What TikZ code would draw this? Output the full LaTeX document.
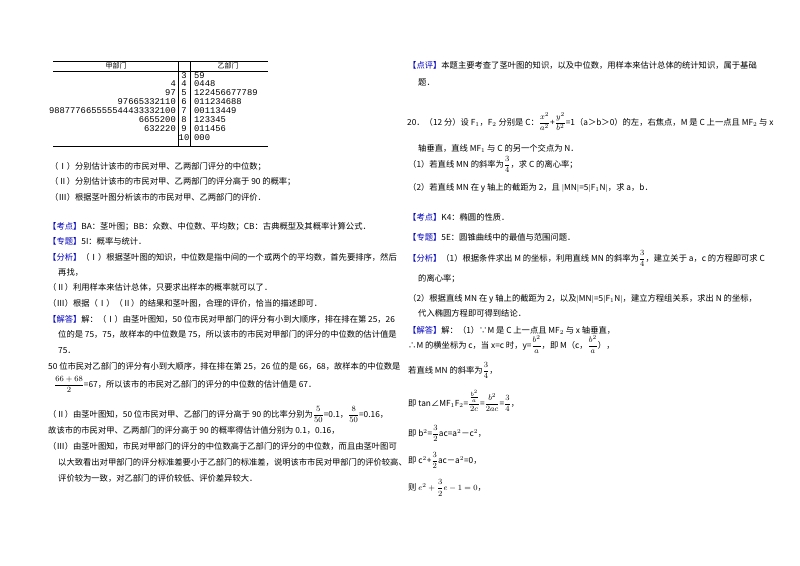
\documentclass[tikz,border=0pt]{standalone}
\usepackage{amsmath}
\usepackage{fontspec}
\setmainfont{Noto Sans CJK SC}
\newfontfamily\monof{Liberation Mono}
\newcommand\fs{\fontsize{8.3}{10}\selectfont}
\newcommand\kbl[1]{\textcolor{blue!75!black}{【#1】}}
\begin{document}
\begin{tikzpicture}[x=1pt,y=-1pt,
  t/.style={anchor=base west,inner sep=0,font=\fs},
  lf/.style={anchor=base east,inner sep=0,font=\monof\fontsize{8.8}{9}\selectfont},
  rt/.style={anchor=base west,inner sep=0,font=\monof\fontsize{8.8}{9}\selectfont},
  st/.style={anchor=base,inner sep=0,font=\monof\fontsize{8.8}{9}\selectfont},
  rule/.style={line width=0.6pt}]
\useasboundingbox[fill=white] (0,0) rectangle (800,565);
% stem-leaf table
\coordinate (tl) at (53,61); \coordinate (tr) at (268,61);
\coordinate (hl) at (53,71); \coordinate (hr) at (268,71);
\coordinate (bl) at (53,146); \coordinate (br) at (268,146);
\coordinate (v1t) at (178,61); \coordinate (v1b) at (178,146);
\coordinate (v2t) at (190,61); \coordinate (v2b) at (190,146);
\draw[rule] (tl)--(tr); \draw[rule,line width=0.4pt] (hl)--(hr); \draw[rule] (bl)--(br);
\draw[line width=0.4pt] (v1t)--(v1b); \draw[line width=0.4pt] (v2t)--(v2b);
\node[anchor=base,inner sep=0,font=\fontsize{7}{8}\selectfont] (h1) at (116,68) {甲部门};
\node[anchor=base,inner sep=0,font=\fontsize{7}{8}\selectfont] (h2) at (228,68) {乙部门};
\foreach \s/\l/\r [count=\i] in {3//59,4/4/0448,5/97/122456677789,6/97665332110/011234688,7/988777665555544433332100/00113449,8/6655200/123345,9/632220/011456,10//000}{
  \node[st] (s\i) at (184,{78+(\i-1)*8.9}) {\s};
  \node[lf] (l\i) at (176,{78+(\i-1)*8.9}) {\l};
  \node[rt] (r\i) at (194,{78+(\i-1)*8.9}) {\r};
}
% questions
\node[t] (q1) at (50,169) {（Ⅰ）分别估计该市的市民对甲、乙两部门评分的中位数；};
\node[t] (q2) at (50,184) {（Ⅱ）分别估计该市的市民对甲、乙两部门的评分高于 90 的概率；};
\node[t] (q3) at (50,200) {（Ⅲ）根据茎叶图分析该市的市民对甲、乙两部门的评价．};
% left analysis
\node[t] (a1) at (48,229) {\kbl{考点}BA：茎叶图；BB：众数、中位数、平均数；CB：古典概型及其概率计算公式．};
\node[t] (a2) at (48,244) {\kbl{专题}5I：概率与统计．};
\node[t] (a3) at (48,260) {\kbl{分析}（Ⅰ）根据茎叶图的知识，中位数是指中间的一个或两个的平均数，首先要排序，然后};
\node[t] (a4) at (58,275) {再找，};
\node[t] (a5) at (48,290) {（Ⅱ）利用样本来估计总体，只要求出样本的概率就可以了．};
\node[t] (a6) at (48,306) {（Ⅲ）根据（Ⅰ）（Ⅱ）的结果和茎叶图，合理的评价，恰当的描述即可．};
\node[t] (a7) at (48,322) {\kbl{解答}解：（Ⅰ）由茎叶图知，50 位市民对甲部门的评分有小到大顺序，排在排在第 25，26};
\node[t] (a8) at (58,337) {位的是 75，75，故样本的中位数是 75，所以该市的市民对甲部门的评分的中位数的估计值是};
\node[t] (a9) at (58,353) {75．};
\node[t] (a10) at (48,369) {50 位市民对乙部门的评分有小到大顺序，排在排在第 25，26 位的是 66，68，故样本的中位数是};
\node[t] (a11) at (54,387) {$\dfrac{66+68}{2}$=67，所以该市的市民对乙部门的评分的中位数的估计值是 67．};
\node[t] (a12) at (48,417) {（Ⅱ）由茎叶图知，50 位市民对甲、乙部门的评分高于 90 的比率分别为$\dfrac{5}{50}$=0.1，$\dfrac{8}{50}$=0.16，};
\node[t] (a13) at (48,433) {故该市的市民对甲、乙两部门的评分高于 90 的概率得估计值分别为 0.1，0.16，};
\node[t] (a14) at (48,449) {（Ⅲ）由茎叶图知，市民对甲部门的评分的中位数高于乙部门的评分的中位数，而且由茎叶图可};
\node[t] (a15) at (58,465) {以大致看出对甲部门的评分标准差要小于乙部门的标准差，说明该市市民对甲部门的评价较高、};
\node[t] (a16) at (58,481) {评价较为一致，对乙部门的评价较低、评价差异较大．};
% right column
\node[t] (b1) at (408,68) {\kbl{点评}本题主要考查了茎叶图的知识，以及中位数，用样本来估计总体的统计知识，属于基础};
\node[t] (b2) at (418,85) {题．};
\node[t] (b3) at (407,125) {20．（12 分）设 F$_1$，F$_2$ 分别是 C：$\dfrac{x^2}{a^2}$+$\dfrac{y^2}{b^2}$=1（a＞b＞0）的左，右焦点，M 是 C 上一点且 MF$_2$ 与 x};
\node[t] (b4) at (418,151) {轴垂直，直线 MF$_1$ 与 C 的另一个交点为 N．};
\node[t] (b5) at (408,167) {（1）若直线 MN 的斜率为$\dfrac{3}{4}$，求 C 的离心率；};
\node[t] (b6) at (408,190) {（2）若直线 MN 在 y 轴上的截距为 2，且 $|$MN$|$=5$|$F$_1$N$|$，求 a，b．};
\node[t] (b7) at (408,220) {\kbl{考点}K4：椭圆的性质．};
\node[t] (b8) at (408,240) {\kbl{专题}5E：圆锥曲线中的最值与范围问题．};
\node[t] (b9) at (408,261) {\kbl{分析}（1）根据条件求出 M 的坐标，利用直线 MN 的斜率为$\dfrac{3}{4}$，建立关于 a，c 的方程即可求 C};
\node[t] (b10) at (418,281) {的离心率；};
\node[t] (b11) at (408,301) {（2）根据直线 MN 在 y 轴上的截距为 2，以及$|$MN$|$=5$|$F$_1$N$|$，建立方程组关系，求出 N 的坐标，};
\node[t] (b12) at (418,316) {代入椭圆方程即可得到结论．};
\node[t] (b13) at (408,333) {\kbl{解答}解：（1）∵M 是 C 上一点且 MF$_2$ 与 x 轴垂直，};
\node[t] (b14) at (408,348) {∴M 的横坐标为 c，当 x=c 时，y=$\dfrac{b^2}{a}$，即 M（c，$\dfrac{b^2}{a}$），};
\node[t] (b15) at (408,373) {若直线 MN 的斜率为$\dfrac{3}{4}$，};
\node[t] (b16) at (408,406) {即 tan∠MF$_1$F$_2$=$\dfrac{\frac{b^2}{a}}{2c}$=$\dfrac{b^2}{2ac}$=$\dfrac{3}{4}$，};
\node[t] (b17) at (408,436) {即 b$^2$=$\dfrac{3}{2}$ac=a$^2$－c$^2$，};
\node[t] (b18) at (408,463) {即 c$^2$+$\dfrac{3}{2}$ac－a$^2$=0，};
\node[t] (b19) at (408,490) {则 $e^2+\dfrac{3}{2}e-1=0$，};
\end{tikzpicture}
\end{document}
